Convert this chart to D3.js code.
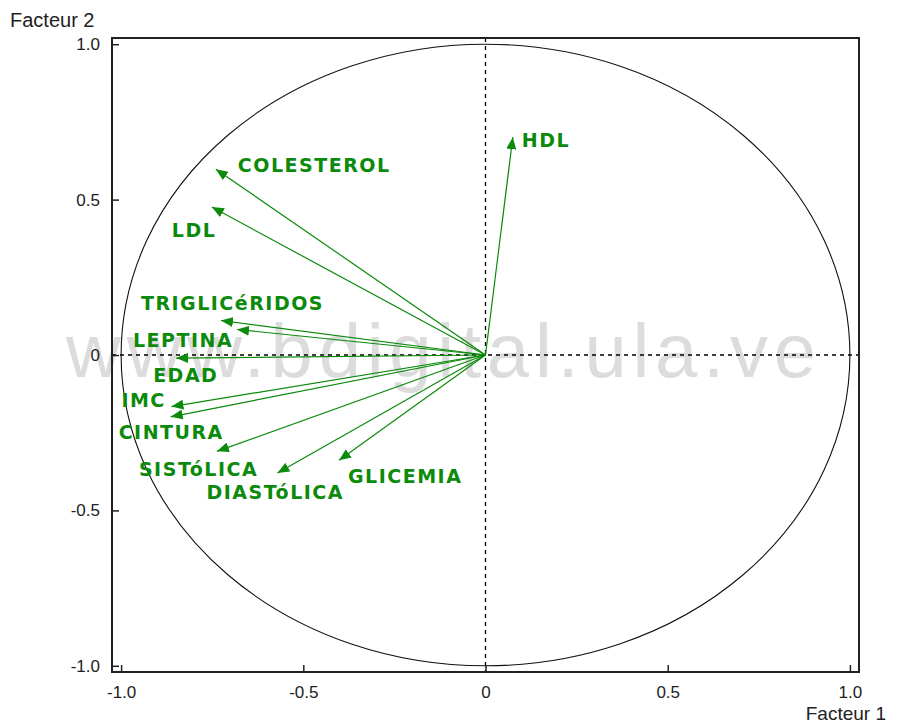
<!DOCTYPE html>
<html>
<head>
<meta charset="utf-8">
<script src="https://cdn.jsdelivr.net/npm/d3@7"></script>
<style>
  html, body { margin: 0; padding: 0; background: #fff; }
  svg { display: block; }
</style>
</head>
<body>
<svg id="chart" width="901" height="723"></svg>
<script>
// Correlation circle: variables projected on factor 1 / factor 2
const variables = ["HDL", "COLESTEROL", "LDL", "TRIGLICéRIDOS", "LEPTINA", "EDAD",
                   "IMC", "CINTURA", "SISTóLICA", "DIASTóLICA", "GLICEMIA"];
const factor1 = [0.075, -0.740, -0.751, -0.726, -0.682, -0.849, -0.862, -0.864, -0.737, -0.571, -0.402];
const factor2 = [0.701, 0.598, 0.476, 0.111, 0.082, -0.010, -0.166, -0.199, -0.310, -0.380, -0.339];
const xTicks = [-1.0, -0.5, 0, 0.5, 1.0];
const yTicks = [-1.0, -0.5, 0, 0.5, 1.0];
const tickLabel = v => v === 0 ? "0" : (Number.isInteger(v) ? v.toFixed(1) : String(v));

// Label placement relative to each arrow tip (pixels)
const labelOffset = {
  "HDL": [9, 10], "COLESTEROL": [22, 3], "LDL": [-40, 30], "TRIGLICéRIDOS": [-80, -11],
  "LEPTINA": [-104, 17], "EDAD": [-23, 24], "IMC": [-50, 0], "CINTURA": [-52, 22],
  "SISTóLICA": [-78, 25], "DIASTóLICA": [-71, 26], "GLICEMIA": [9, 23]
};

const svg = d3.select("#chart");
const green = "#0b8a0b";
const frame = { left: 112, right: 859, top: 38, bottom: 672 };
const lim = 1.025, limY = 1.02;

const x = d3.scaleLinear().domain([-lim, lim]).range([frame.left, frame.right]);
const y = d3.scaleLinear().domain([-limY, limY]).range([frame.bottom, frame.top]);

// Watermark behind the plot
svg.append("text")
  .attr("x", 66).attr("y", 377)
  .attr("textLength", 750).attr("lengthAdjust", "spacing")
  .attr("font-family", "Liberation Sans, Arial, sans-serif")
  .attr("font-size", 76)
  .attr("fill", "#dcdcdc")
  .text("www.bdigital.ula.ve");

// Unit circle (ellipse in pixel space)
svg.append("ellipse")
  .attr("cx", x(0)).attr("cy", y(0))
  .attr("rx", x(1) - x(0)).attr("ry", y(0) - y(1))
  .attr("fill", "none").attr("stroke", "#111").attr("stroke-width", 1.1);

// Dashed axes through the origin
svg.append("line")
  .attr("x1", frame.left).attr("x2", frame.right)
  .attr("y1", y(0)).attr("y2", y(0))
  .attr("stroke", "#000").attr("stroke-width", 1.3).attr("stroke-dasharray", "4,4");
svg.append("line")
  .attr("x1", x(0)).attr("x2", x(0))
  .attr("y1", frame.top).attr("y2", frame.bottom)
  .attr("stroke", "#000").attr("stroke-width", 1.3).attr("stroke-dasharray", "4,4");

// Axes with inward ticks
const xAxis = d3.axisBottom(x).tickValues(xTicks).tickSizeInner(-7).tickSizeOuter(0).tickPadding(17).tickFormat(tickLabel);
const yAxis = d3.axisLeft(y).tickValues(yTicks).tickSizeInner(-7).tickSizeOuter(0).tickPadding(17).tickFormat(tickLabel);

const gx = svg.append("g").attr("transform", `translate(0,${frame.bottom})`).call(xAxis);
const gy = svg.append("g").attr("transform", `translate(${frame.left},0)`).call(yAxis);
[gx, gy].forEach(g => {
  g.select(".domain").remove();
  g.selectAll(".tick line").attr("stroke", "#222").attr("stroke-width", 1.5);
  g.selectAll(".tick text")
    .attr("font-family", "Liberation Sans, Arial, sans-serif")
    .attr("font-size", 17).attr("fill", "#222");
});
gy.selectAll(".tick text").attr("x", -12);
gx.selectAll(".tick text").attr("dy", "0.55em");

// Frame
svg.append("rect")
  .attr("x", frame.left).attr("y", frame.top)
  .attr("width", frame.right - frame.left).attr("height", frame.bottom - frame.top)
  .attr("fill", "none").attr("stroke", "#222").attr("stroke-width", 2);

// Arrowhead marker
svg.append("defs").append("marker")
  .attr("id", "head").attr("viewBox", "0 0 12 10")
  .attr("refX", 12).attr("refY", 5)
  .attr("markerWidth", 12).attr("markerHeight", 10)
  .attr("markerUnits", "userSpaceOnUse")
  .attr("orient", "auto")
  .append("path").attr("d", "M0,0 L12,5 L0,10 Z").attr("fill", green);

const data = variables.map((name, i) => ({ name, f1: factor1[i], f2: factor2[i] }));

svg.append("g").selectAll("line.arrow").data(data).join("line")
  .attr("class", "arrow")
  .attr("x1", x(0)).attr("y1", y(0))
  .attr("x2", d => x(d.f1)).attr("y2", d => y(d.f2))
  .attr("stroke", green).attr("stroke-width", 1.2)
  .attr("marker-end", "url(#head)");

svg.append("g").selectAll("text.var").data(data).join("text")
  .attr("class", "var")
  .attr("x", d => x(d.f1) + labelOffset[d.name][0])
  .attr("y", d => y(d.f2) + labelOffset[d.name][1])
  .attr("font-family", "DejaVu Sans, Verdana, sans-serif")
  .attr("font-weight", "bold").attr("font-size", 19)
  .attr("letter-spacing", 1.5)
  .attr("fill", green)
  .text(d => d.name);

// Axis titles
svg.append("text").attr("x", 10).attr("y", 27)
  .attr("font-family", "Liberation Sans, Arial, sans-serif").attr("font-size", 20)
  .attr("fill", "#222").text("Facteur 2");
svg.append("text").attr("x", 886).attr("y", 720).attr("text-anchor", "end")
  .attr("font-family", "Liberation Sans, Arial, sans-serif").attr("font-size", 19)
  .attr("fill", "#222").text("Facteur 1");
</script>
</body>
</html>
